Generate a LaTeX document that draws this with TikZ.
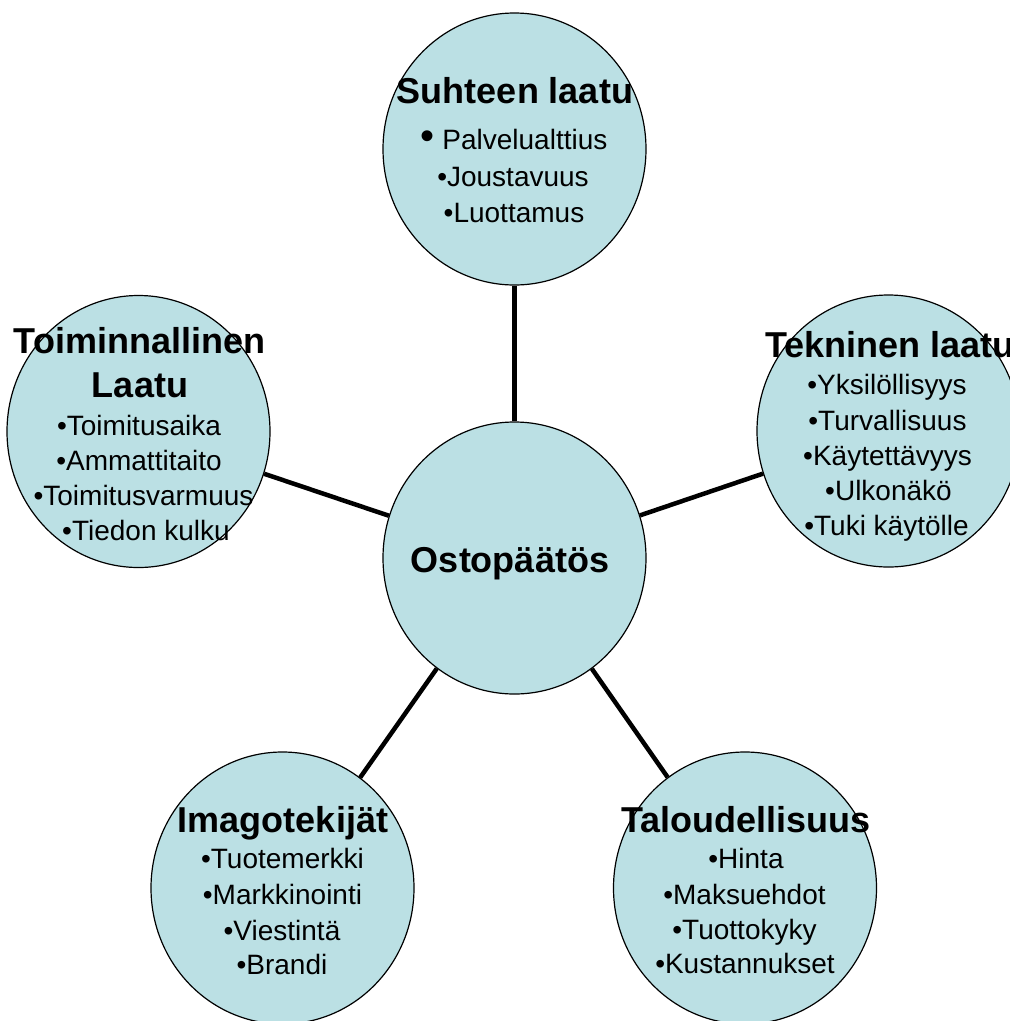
\documentclass[tikz,border=0pt]{standalone}
\usepackage{fontspec}
\setmainfont{Liberation Sans}
\usetikzlibrary{shapes.geometric}
\definecolor{bubble}{RGB}{187,224,228}
\tikzset{
  bub/.style={ellipse, draw=black, line width=1.2pt, fill=bubble,
              minimum width=263pt, minimum height=272pt, inner sep=0pt},
  link/.style={line width=4.5pt, black},
  ttl/.style={anchor=base, inner sep=0pt, font=\fontsize{36}{36}\selectfont\bfseries},
  itm/.style={anchor=base, inner sep=0pt, font=\fontsize{28}{28}\selectfont}
}
\begin{document}
\begin{tikzpicture}[x=1pt,y=-1pt]
\useasboundingbox (0,0) rectangle (1010,1021);
\clip (0,0) rectangle (1010,1021);
% bubbles
\node[bub] (C) at (514.5,558) {};
\node[bub] (T) at (514.5,149) {};
\node[bub] (L) at (138.5,431.5) {};
\node[bub] (R) at (888.5,431) {};
\node[bub] (BL) at (282.5,888) {};
\node[bub] (BR) at (745,888) {};
% connectors
\draw[link] (C) -- (T);
\draw[link] (C) -- (L);
\draw[link] (C) -- (R);
\draw[link] (C) -- (BL);
\draw[link] (C) -- (BR);
% centre
\node[ttl] (c0) at (510,572) {Ostopäätös};
% top
\node[ttl] (t0) at (515,103) {Suhteen laatu};
\node[itm] (t1) at (514,149) {{\fontsize{40}{40}\selectfont•}\ Palvelualttius};
\node[itm] (t2) at (513,186) {•Joustavuus};
\node[itm] (t3) at (514,222) {•Luottamus};
% left
\node[ttl] (l0) at (139.5,353) {Toiminnallinen};
\node[ttl] (l1) at (140,397) {Laatu};
\node[itm] (l2) at (139,435) {•Toimitusaika};
\node[itm] (l3) at (139,470) {•Ammattitaito};
\node[itm] (l4) at (143.5,505) {•Toimitusvarmuus};
\node[itm] (l5) at (146,540) {•Tiedon kulku};
% right
\node[ttl] (r0) at (890,357) {Tekninen laatu};
\node[itm] (r1) at (887,394) {•Yksilöllisyys};
\node[itm] (r2) at (887.5,430) {•Turvallisuus};
\node[itm] (r3) at (887.5,465) {•Käytettävyys};
\node[itm] (r4) at (888.5,500) {•Ulkonäkö};
\node[itm] (r5) at (886.5,535) {•Tuki käytölle};
% bottom left
\node[ttl] (bl0) at (283,832) {Imagotekijät};
\node[itm] (bl1) at (282.5,868) {•Tuotemerkki};
\node[itm] (bl2) at (282.5,904) {•Markkinointi};
\node[itm] (bl3) at (282,940) {•Viestintä};
\node[itm] (bl4) at (282,974) {•Brandi};
% bottom right
\node[ttl] (br0) at (746,832) {Taloudellisuus};
\node[itm] (br1) at (746,868) {•Hinta};
\node[itm] (br2) at (744.5,904) {•Maksuehdot};
\node[itm] (br3) at (744.5,939) {•Tuottokyky};
\node[itm] (br4) at (745,973) {•Kustannukset};
\end{tikzpicture}
\end{document}
